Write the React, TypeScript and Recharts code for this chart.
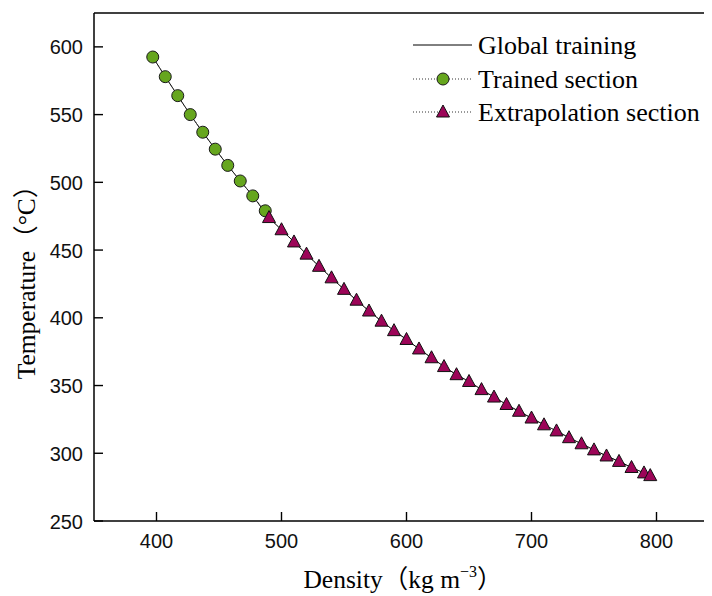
import {
  ComposedChart,
  Line,
  XAxis,
  YAxis,
  Legend,
  ReferenceLine,
} from "recharts";

// trained section (circles)
const trainedDensity = [397, 407, 417, 427, 437, 447, 457, 467, 477, 487];
const trainedTemp = [592.5, 578, 564, 550, 537, 524.5, 512.5, 501, 490, 479];

// extrapolation section (triangles)
const extrapDensity = [
  490, 500, 510, 520, 530, 540, 550, 560, 570, 580, 590, 600, 610, 620, 630, 640,
  650, 660, 670, 680, 690, 700, 710, 720, 730, 740, 750, 760, 770, 780, 790, 795,
];
const extrapTemp = [
  474, 465, 456, 447, 438, 429.5, 421, 413, 405, 397.5, 390.5, 384, 377, 370.5, 364, 358,
  353, 347, 341.5, 336, 331, 326, 321, 316.5, 311.5, 307, 302.5, 298, 294, 289.5, 285.5, 283.5,
];

const xTicks = [400, 500, 600, 700, 800];
const yTicks = [250, 300, 350, 400, 450, 500, 550, 600];

const green = "#66a61e";
const purple = "#9c0558";
const sansFont = "'Liberation Sans', Arial, sans-serif";
const serifFont = "'Liberation Serif', 'Times New Roman', 'Noto Sans CJK SC', serif";

const trainedData = trainedDensity.map((d, i) => ({ d, t: trainedTemp[i] }));
const extrapData = extrapDensity.map((d, i) => ({ d, t: extrapTemp[i] }));
const globalData = [...trainedData.slice(0, -1), ...extrapData];

// chart sits at the body's 8px margin, so page coords are shifted by 8
function XTick({ x, y, payload }: any) {
  return (
    <g>
      <line x1={x} x2={x} y1={y} y2={y - 9} stroke="#000" strokeWidth={1.4} />
      <text x={x} y={y + 27} textAnchor="middle" fontFamily={sansFont} fontSize={20} fill="#111">
        {payload.value}
      </text>
    </g>
  );
}

function YTick({ x, y, payload }: any) {
  return (
    <g>
      <line x1={x} x2={x + 9} y1={y} y2={y} stroke="#000" strokeWidth={1.4} />
      <text x={x - 11} y={y + 7.5} textAnchor="end" fontFamily={sansFont} fontSize={20} fill="#111">
        {payload.value}
      </text>
    </g>
  );
}

function Triangle({ cx, cy }: any) {
  if (cx == null || cy == null) return null;
  return (
    <polygon
      points={`${cx},${cy - 7} ${cx - 6.5},${cy + 5} ${cx + 6.5},${cy + 5}`}
      fill={purple}
      stroke="#111"
      strokeWidth={1}
    />
  );
}

function LegendBox() {
  const rows = [20, 54, 87];
  const txt = { fontFamily: serifFont, fontSize: 26, fill: "#000" };
  return (
    <svg width={310} height={110} style={{ display: "block", overflow: "visible" }}>
      <line x1={13} x2={72} y1={rows[0]} y2={rows[0]} stroke="#000" strokeWidth={1} />
      <text x={78} y={rows[0] + 9} {...txt}>
        Global training
      </text>
      <line x1={13} x2={72} y1={rows[1]} y2={rows[1]} stroke="#333" strokeDasharray="1 2" />
      <circle cx={43} cy={rows[1]} r={6} fill={green} stroke="#1a1a1a" />
      <text x={78} y={rows[1] + 9} {...txt}>
        Trained section
      </text>
      <line x1={13} x2={72} y1={rows[2]} y2={rows[2]} stroke="#333" strokeDasharray="1 2" />
      <polygon
        points={`43,${rows[2] - 7} 36.5,${rows[2] + 5} 49.5,${rows[2] + 5}`}
        fill={purple}
        stroke="#111"
      />
      <text x={78} y={rows[2] + 9} {...txt}>
        Extrapolation section
      </text>
    </svg>
  );
}

export default function App() {
  return (
    <div style={{ width: 704, height: 588, overflow: "hidden", position: "relative" }}>
      <ComposedChart
        width={732}
        height={588}
        margin={{ top: 5, right: 21, bottom: 0, left: 0 }}
      >
        <XAxis
          type="number"
          dataKey="d"
          domain={[350, 850]}
          ticks={xTicks}
          allowDataOverflow
          height={75}
          tickSize={0}
          tickMargin={0}
          tickLine={false}
          axisLine={{ stroke: "#000", strokeWidth: 1.5 }}
          tick={<XTick />}
          label={() => (
            <text x={395} y={580} textAnchor="middle" fontFamily={serifFont} fontSize={25.5} fill="#000">
              Density（kg m
              <tspan fontSize={16} dy={-11}>−3</tspan>
              <tspan dy={11}>）</tspan>
            </text>
          )}
        />
        <YAxis
          type="number"
          dataKey="t"
          domain={[250, 625]}
          ticks={yTicks}
          allowDataOverflow
          width={86}
          tickSize={0}
          tickMargin={0}
          tickLine={false}
          axisLine={{ stroke: "#000", strokeWidth: 1.5 }}
          tick={<YTick />}
          label={() => (
            <text
              x={27}
              y={268}
              transform="rotate(-90 27 268)"
              textAnchor="middle"
              fontFamily={serifFont}
              fontSize={25.5}
              fill="#000"
            >
              Temperature（°C）
            </text>
          )}
        />
        <ReferenceLine y={625} stroke="#000" strokeWidth={1.3} ifOverflow="visible" />
        <ReferenceLine x={850} stroke="#000" strokeWidth={1.3} ifOverflow="visible" />
        <Legend
          verticalAlign="middle"
          layout="horizontal"
          wrapperStyle={{ position: "absolute", left: 392, top: 17, width: 310, height: 110 }}
          content={() => <LegendBox />}
        />
        <Line
          data={globalData}
          dataKey="t"
          name="Global training"
          type="monotone"
          stroke="#000"
          strokeWidth={1}
          dot={false}
          isAnimationActive={false}
        />
        <Line
          data={trainedData}
          dataKey="t"
          name="Trained section"
          type="linear"
          stroke="#444"
          strokeWidth={1}
          strokeDasharray="1 2"
          dot={{ r: 6, fill: green, stroke: "#1a1a1a", strokeWidth: 1, strokeDasharray: "none" }}
          isAnimationActive={false}
        />
        <Line
          data={extrapData}
          dataKey="t"
          name="Extrapolation section"
          type="linear"
          stroke="#444"
          strokeWidth={1}
          strokeDasharray="1 2"
          dot={<Triangle />}
          isAnimationActive={false}
        />
      </ComposedChart>
    </div>
  );
}
